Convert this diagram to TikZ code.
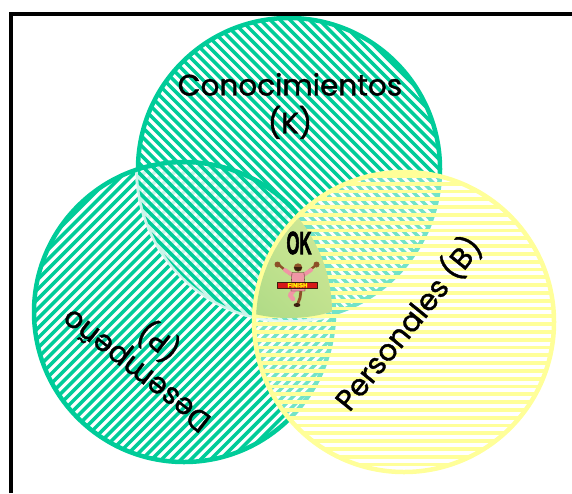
\documentclass[tikz,border=0pt]{standalone}
\usepackage{fontspec}
\setmainfont{Poppins}[FakeBold=1.3]
\newfontfamily\okfont{Liberation Sans}[BoldFeatures={FakeBold=3}]
\usetikzlibrary{shadings}

\definecolor{venngreen}{RGB}{0,204,153}
\definecolor{vennyellow}{RGB}{255,255,153}
\definecolor{coreA}{RGB}{140,205,120}
\definecolor{coreB}{RGB}{228,238,145}
\definecolor{coreC}{RGB}{208,232,148}
\definecolor{coreD}{RGB}{248,248,178}
\definecolor{skin}{RGB}{140,80,40}
\definecolor{shirt}{RGB}{240,150,165}
\definecolor{hair}{RGB}{60,30,15}
\definecolor{banner}{RGB}{215,25,25}

\tikzset{
  greenhatch/.style={draw=venngreen,line width=3.5pt},
  yellowhatch/.style={draw=vennyellow,line width=3.8pt},
  greenring/.style={draw=venngreen,line width=4.5pt},
  yellowring/.style={draw=vennyellow,line width=4.5pt},
  setlabel/.style={font=\fontsize{29.5}{38}\selectfont,align=center,text=black,inner sep=0pt},
}

% hatching of each set, drawn inside the current clip
\newcommand{\kstripes}{\foreach \c in {-220,-210.2,...,460} {\draw[greenhatch] (\c,0) -- ++(340,340);}}
\newcommand{\dstripes}{\foreach \c in {-320,-310.2,...,320} {\draw[greenhatch] (\c,500) -- ++(340,-340);}}
\newcommand{\bstripes}{\foreach \r in {168,175.8,...,480} {\draw[yellowhatch] (250,\r) -- (560,\r);}}

\begin{document}
\begin{tikzpicture}[x=1pt,y=-1pt]
\useasboundingbox (0,0) rectangle (572,493);

\coordinate (K) at (289,169);
\coordinate (D) at (184,312);
\coordinate (B) at (404,322);

% Conocimientos set
\begin{scope}
  \clip (K) circle[radius=151];
  \kstripes
\end{scope}
\draw[greenring] (K) circle[radius=151];

% Desempeno set, with the K hatching kept in front inside the overlap
\begin{scope}
  \clip (D) circle[radius=150];
  \dstripes
  \fill[white,opacity=0.8] (K) circle[radius=154];
  \clip (K) circle[radius=151];
  \kstripes
\end{scope}
\draw[greenring] (D) circle[radius=150];

% Personales set, washing out what lies beneath
\fill[white,opacity=0.45] (B) circle[radius=150];
\begin{scope}
  \clip (B) circle[radius=150];
  \bstripes
\end{scope}
\draw[yellowring] (B) circle[radius=150];

% common core of the three sets
\begin{scope}
  \clip (K) circle[radius=149];
  \clip (D) circle[radius=148];
  \shade[lower left=coreA,lower right=coreB,upper left=coreC,upper right=coreD]
    (B) circle[radius=148];
\end{scope}

% frame
\draw[line width=4pt] (11,493) -- (11,14) -- (572,14);

% labels
\node[setlabel] (klabel) at (290,106) {Conocimientos\\(K)};
\node[setlabel,rotate=142] (dlabel) at (149,354) {Desempeño\\(P)};
\node[setlabel,rotate=51] (blabel) at (408,323) {Personales (B)};

\node[font=\okfont\bfseries\fontsize{32}{32}\selectfont,xscale=0.52,inner sep=0pt] (ok) at (299,243) {OK};

% runner breaking the finishing tape
\begin{scope}[line join=round,line cap=round]
  \draw[skin,line width=2.4pt] (293,276) -- (285,270) -- (279,265);
  \draw[skin,line width=2.4pt] (303,276) -- (310,270) -- (316,265);
  \draw[shirt,line width=4pt] (294,276) -- (285,270);
  \draw[shirt,line width=4pt] (302,276) -- (311,270);
  \fill[skin] (277.5,264.5) circle[radius=3];
  \fill[skin] (316.5,264.5) circle[radius=3];
  \draw[skin,line width=2.8pt] (301,290) -- (300,298) -- (298,303);
  \fill[hair] (297,305) ellipse[x radius=3.4,y radius=2];
  \draw[shirt,line width=4.5pt] (295,289) -- (290,295) -- (293,299);
  \filldraw[fill=shirt,draw=hair,line width=0.3pt] (292,272.5) -- (304,272.5) -- (305,291) -- (291,291) -- cycle;
  \fill[skin] (298,267.5) circle[radius=4.2];
  \fill[hair] (293.8,267) arc[start angle=180,end angle=0,radius=4.2] -- cycle;
  \filldraw[fill=banner,draw=hair,line width=0.3pt] (277.5,281.8) -- (317.5,281.8) -- (317.5,288.5) -- (277.5,288.5) -- cycle;
  \node[font=\okfont\bfseries\fontsize{6}{6}\selectfont,text=yellow,inner sep=0pt] (tape) at (297.5,285.2) {FINISH};
\end{scope}
\end{tikzpicture}
\end{document}
